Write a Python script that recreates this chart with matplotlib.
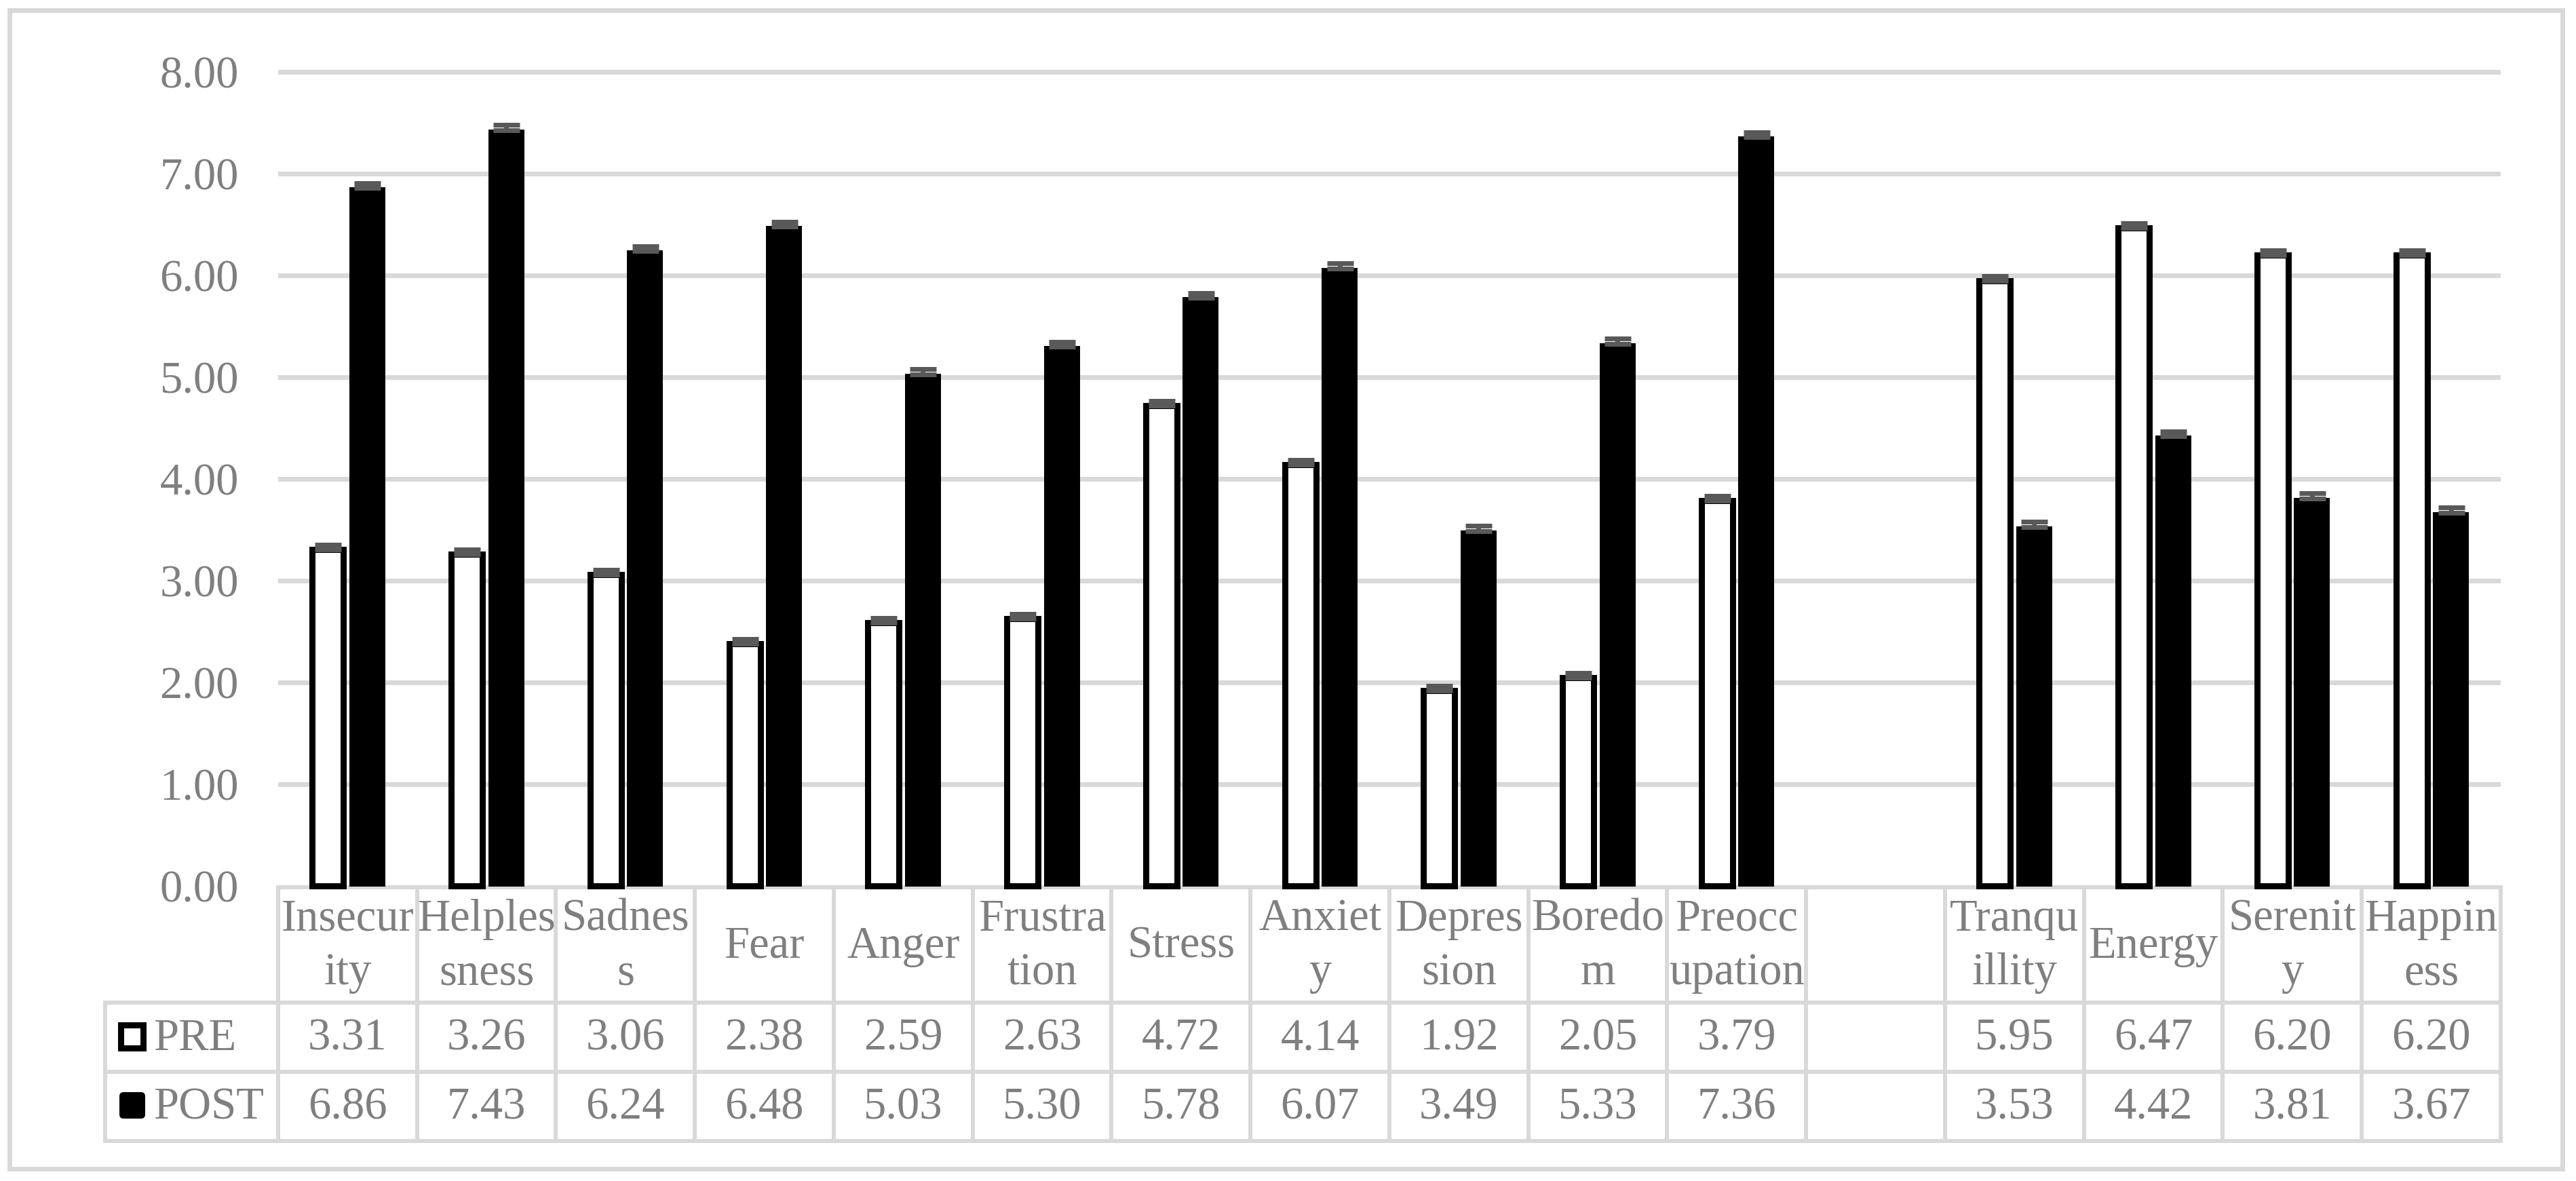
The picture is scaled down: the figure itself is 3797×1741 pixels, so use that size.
import matplotlib.pyplot as plt
from matplotlib.patches import Rectangle, FancyBboxPatch
import numpy as np

# Data (blank column between negative and positive emotions)
categories = ['Insecur\nity', 'Helples\nsness', 'Sadnes\ns', 'Fear', 'Anger',
              'Frustra\ntion', 'Stress', 'Anxiet\ny', 'Depres\nsion', 'Boredo\nm',
              'Preocc\nupation', '', 'Tranqu\nillity', 'Energy', 'Serenit\ny',
              'Happin\ness']
pre = [3.31, 3.26, 3.06, 2.38, 2.59, 2.63, 4.72, 4.14, 1.92, 2.05, 3.79,
       np.nan, 5.95, 6.47, 6.20, 6.20]
post = [6.86, 7.43, 6.24, 6.48, 5.03, 5.30, 5.78, 6.07, 3.49, 5.33, 7.36,
        np.nan, 3.53, 4.42, 3.81, 3.67]
pre_err = [0.045, 0.045, 0.045, 0.045, 0.045, 0.045, 0.045, 0.045, 0.045,
           0.045, 0.045, np.nan, 0.045, 0.045, 0.045, 0.045]
post_err = [0.05, 0.05, 0.05, 0.05, 0.05, 0.05, 0.05, 0.05, 0.05, 0.05,
            0.05, np.nan, 0.05, 0.05, 0.05, 0.05]
series = ['PRE', 'POST']
yticks = [0, 1, 2, 3, 4, 5, 6, 7, 8]

# Layout (pixels of the 3798x1741 output)
W, H, DPI = 3798, 1741, 200
PT = 72 / DPI
plot_left, plot_right = 410, 3686
y_zero, px_per_unit = 1306, 150
col_w = (plot_right - plot_left) / len(categories)
table_left = 155
row_y = [1308, 1478, 1580, 1682]
grey = '#D9D9D9'
text_col = '#7F7F7F'
font = 'Liberation Serif'
fs = 24

plt.rcParams['font.family'] = [font, 'DejaVu Serif']

fig = plt.figure(figsize=(W / DPI, H / DPI), dpi=DPI)

# overlay in pixel coordinates for frame and data table
ov = fig.add_axes([0, 0, 1, 1], zorder=0)
ov.set_xlim(0, W)
ov.set_ylim(H, 0)
ov.axis('off')

ov.add_patch(Rectangle((14, 15), 3777 - 14, 1723 - 15, fill=False,
                       edgecolor=grey, linewidth=7 * PT))

ylim_top = 8.1
ax = fig.add_axes([plot_left / W, (H - y_zero) / H,
                   (plot_right - plot_left) / W,
                   ylim_top * px_per_unit / H], zorder=1)
ax.patch.set_alpha(0)
x = np.arange(len(categories))
off = 29 / col_w

ax.bar(x - off, pre, width=46 / col_w, color='white', edgecolor='black',
       linewidth=9 * PT, clip_on=False, zorder=3)
ax.bar(x + off, post, width=51 / col_w, color='black', edgecolor='black',
       linewidth=2 * PT, clip_on=False, zorder=3)
zeros = np.zeros(len(categories))
ax.errorbar(x - off, pre, yerr=[zeros, pre_err], fmt='none', ecolor='#595959',
            elinewidth=7 * PT, capsize=39 * PT / 2, capthick=7 * PT, zorder=4)
ax.errorbar(x + off, post, yerr=[zeros, post_err], fmt='none', ecolor='#595959',
            elinewidth=7 * PT, capsize=39 * PT / 2, capthick=7 * PT, zorder=4)

ax.set_xlim(-0.5, len(categories) - 0.5)
ax.set_ylim(0, ylim_top)
ax.set_yticks(yticks)
ax.set_yticklabels([f'{v:.2f}' for v in yticks], fontsize=fs, color=text_col,
                   fontfamily=font)
ax.tick_params(axis='y', length=0, pad=58 * PT)
ax.set_xticks([])
for s in ax.spines.values():
    s.set_visible(False)
for v in yticks[1:]:
    ax.axhline(v, color=grey, linewidth=7 * PT, zorder=1)

# data table
lw = 6 * PT
ov.plot([plot_left, plot_right], [row_y[0], row_y[0]], color=grey, lw=lw)
for yy in row_y[1:]:
    ov.plot([table_left, plot_right], [yy, yy], color=grey, lw=lw)
ov.plot([table_left, table_left], [row_y[1], row_y[3]], color=grey, lw=lw)
for k in range(len(categories) + 1):
    xx = plot_left + k * col_w
    ov.plot([xx, xx], [row_y[0], row_y[3]], color=grey, lw=lw)

for i, lab in enumerate(categories):
    cx = plot_left + (i + 0.5) * col_w
    ov.text(cx, (row_y[0] + row_y[1]) / 2 + 2, lab, ha='center', va='center',
            multialignment='center', fontsize=fs, color=text_col,
            linespacing=1.4)
    for r, vals in enumerate([pre, post]):
        if not np.isnan(vals[i]):
            ov.text(cx, (row_y[r + 1] + row_y[r + 2]) / 2 + 2, f'{vals[i]:.2f}',
                    ha='center', va='center', fontsize=fs, color=text_col)

# legend keys in the table
ov.add_patch(Rectangle((178.5, 1510.5), 33, 34, facecolor='white',
                       edgecolor='black', linewidth=9 * PT))
ov.add_patch(FancyBboxPatch((177, 1611), 36, 37, boxstyle='round,pad=0,rounding_size=5',
                            facecolor='black', edgecolor='black', linewidth=2 * PT))
for r, name in enumerate(series):
    ov.text(226, (row_y[r + 1] + row_y[r + 2]) / 2 + 2, name, ha='left',
            va='center', fontsize=fs, color=text_col)

fig.savefig('out.png', dpi=DPI)
